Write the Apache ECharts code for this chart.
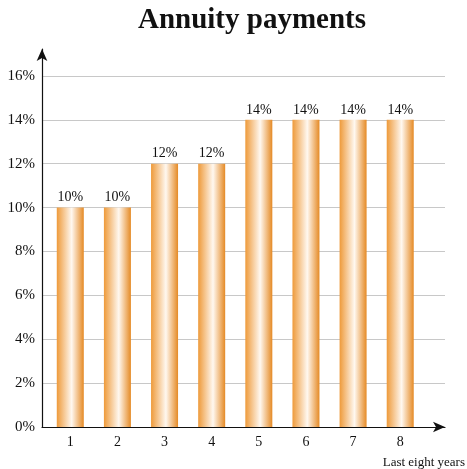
<!DOCTYPE html>
<html>
<head>
<meta charset="utf-8">
<script src="https://cdn.jsdelivr.net/npm/echarts@6/dist/echarts.min.js"></script>
<style>
  html, body { margin: 0; padding: 0; background: #fff; }
  #chart { width: 467px; height: 469px; }
</style>
</head>
<body>
<div id="chart"></div>
<script>
// Donnees du graphique
const annees = [1, 2, 3, 4, 5, 6, 7, 8];
const paiements = [10, 10, 12, 12, 14, 14, 14, 14];
const ticksY = [0, 2, 4, 6, 8, 10, 12, 14, 16];

const police = "Liberation Serif, Times New Roman, serif";

// === GRAPH : Annuity payments ===
function initGraph() {
    const chart = echarts.init(document.getElementById("chart"));

    const degrade = new echarts.graphic.LinearGradient(0, 0, 1, 0, [
        { offset: 0, color: "#EE9A3A" },
        { offset: 0.55, color: "#FFF8F0" },
        { offset: 1, color: "#E58A25" }
    ]);

    const option = {
        backgroundColor: "#fff",
        title: {
            text: "Annuity payments",
            left: 247,
            textAlign: "center",
            top: 1,
            textStyle: { fontFamily: police, fontSize: 29, fontWeight: "bold", color: "#111" }
        },
        grid: { left: 42, right: 22, top: 49, bottom: 42, containLabel: false, outerBoundsMode: "none" },
        xAxis: {
            type: "value",
            min: 0.4,
            max: 8.95,
            name: "Last eight years",
            nameLocation: "end",
            nameGap: 20,
            nameTextStyle: {
                fontFamily: police, fontSize: 13, color: "#111",
                align: "right", verticalAlign: "top", padding: [29, 0, 0, 0]
            },
            axisLine: {
                show: true,
                symbol: ["none", "arrow"],
                symbolSize: [8, 12],
                lineStyle: { color: "#111", width: 1.2 }
            },
            axisTick: { show: false },
            splitLine: { show: false },
            axisLabel: {
                customValues: annees,
                margin: 8,
                fontFamily: police, fontSize: 14, color: "#111",
                formatter: v => String(v)
            }
        },
        yAxis: {
            type: "value",
            min: 0,
            max: 17.23,
            interval: 2,
            axisLine: {
                show: true,
                symbol: ["none", "arrow"],
                symbolSize: [8, 12],
                lineStyle: { color: "#111", width: 1.2 }
            },
            axisTick: { show: false },
            splitLine: {
                show: true,
                showMaxLine: false,
                lineStyle: { color: "#c8c8c8", width: 1 }
            },
            axisLabel: {
                customValues: ticksY,
                margin: 7,
                fontFamily: police, fontSize: 15, color: "#111",
                formatter: v => v + "%"
            }
        },
        series: [{
            type: "bar",
            data: annees.map((a, i) => [a, paiements[i]]),
            barWidth: 27,
            itemStyle: { color: degrade },
            label: {
                show: true,
                position: "top",
                distance: 3,
                fontFamily: police, fontSize: 14, color: "#111",
                formatter: p => p.value[1] + "%"
            }
        }]
    };
    chart.setOption(option);
}

document.addEventListener("DOMContentLoaded", initGraph);
</script>
</body>
</html>
